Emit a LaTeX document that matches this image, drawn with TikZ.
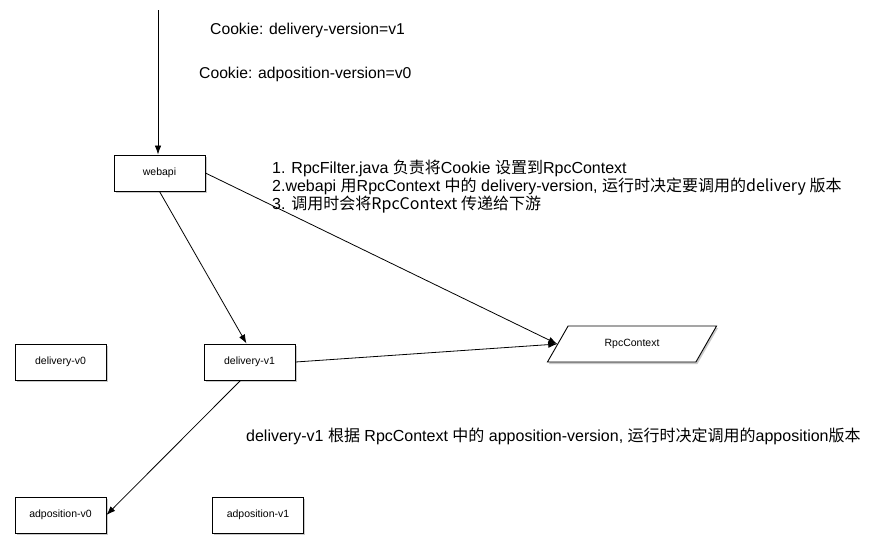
\documentclass[tikz,border=0pt]{standalone}
\usepackage{fontspec}
\setmainfont{Liberation Sans}
\newfontfamily\cjk{Noto Sans CJK SC}
\usetikzlibrary{arrows.meta,shapes.geometric,shadows}
\begin{document}
\begin{tikzpicture}[x=1pt,y=-1pt,
  box/.style={draw,line width=0.9pt,fill=white,minimum width=91pt,minimum height=36pt,inner sep=0pt,font=\fontsize{10.5}{12}\selectfont,
    drop shadow={shadow xshift=1.5pt,shadow yshift=-2pt,opacity=0.35,fill=black!60}},
  para/.style={trapezium,trapezium left angle=47,trapezium right angle=133,trapezium stretches=true,draw,line width=0.9pt,fill=white,minimum width=170pt,minimum height=36pt,inner sep=0pt,font=\fontsize{10.5}{12}\selectfont,
    drop shadow={shadow xshift=1.5pt,shadow yshift=-2pt,opacity=0.35,fill=black!60}},
  txt/.style={anchor=west,inner sep=0pt,font=\fontsize{16}{18}\selectfont},
  ctxt/.style={anchor=west,inner sep=0pt,font=\fontsize{15.7}{18}\selectfont},
  arr/.style={-{Latex[length=9pt,width=6.5pt]},line width=0.8pt}]
\useasboundingbox (0,0) rectangle (882,550);
\node[box] (webapi) at (159.5,173) {webapi};
\node[box] (dv0) at (60.5,362) {delivery-v0};
\node[box] (dv1) at (249.5,362) {delivery-v1};
\node[box] (ap0) at (60.5,515) {adposition-v0};
\node[box] (ap1) at (258,515) {adposition-v1};
\node[para] (rpc) at (632,344) {RpcContext};
\coordinate (top) at (158,10);
\node[ctxt] (c1) at (210,30) {Cookie: delivery-version=v1};
\node[ctxt] (c2) at (199,74) {Cookie: adposition-version=v0};
\node[txt] (n1) at (272,168) {1. RpcFilter.java {\cjk 负责将}Cookie {\cjk 设置到}RpcContext};
\node[txt] (n2) at (272,187) {2.webapi {\cjk 用}RpcContext {\cjk 中的} delivery-version, {\cjk 运行时决定要调用的delivery 版本}};
\node[txt] (n3) at (272,205) {3. {\cjk 调用时会将RpcContext 传递给下游}};
\node[txt] (n4) at (246,436) {delivery-v1 {\cjk 根据} RpcContext {\cjk 中的} apposition-version, {\cjk 运行时决定调用的}apposition{\cjk 版本}};
\draw[arr] (top) -- (top |- webapi.north);
\draw[arr] (webapi.south) -- ([xshift=-3pt]dv1.north);
\draw[arr] (webapi.east) -- (rpc.west);
\draw[arr] (dv1.east) -- (rpc.west);
\draw[arr] ([xshift=-9pt]dv1.south) -- (ap0.east);
\end{tikzpicture}
\end{document}
